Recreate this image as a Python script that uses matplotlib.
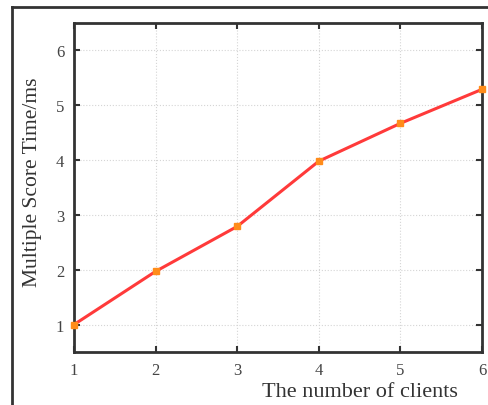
import numpy as np
import matplotlib
matplotlib.use('Agg')
import matplotlib.pyplot as plt
from matplotlib.lines import Line2D

####################
# Data
####################
clients = [1, 2, 3, 4, 5, 6]
score_time = [1.0, 1.97, 2.79, 3.98, 4.67, 5.29]
xticks = [1, 2, 3, 4, 5, 6]
yticks = [1, 2, 3, 4, 5, 6]

plt.rcParams['font.family'] = ['Liberation Serif', 'DejaVu Serif']

####################
# Plot
####################
fig = plt.figure(figsize=(4.88, 4.06), dpi=100)
ax = fig.add_axes([0.1516, 0.1305, 0.8361, 0.8104])

ax.plot(clients, score_time, color='#ff3a3a', lw=2.2, zorder=3)
ax.plot(clients, score_time, ls='none', marker='s', ms=5,
        color='#ff8c1a', mec='#ff8c1a', zorder=4, clip_on=False)

ax.set_xlim(1, 6)
ax.set_ylim(0.5, 6.5)
ax.set_xticks(xticks)
ax.set_yticks(yticks)
ax.grid(True, ls=':', color='#d5d5d5', lw=0.8)

for s in ax.spines.values():
    s.set_linewidth(2.0)
    s.set_color('#333333')
ax.tick_params(direction='in', top=True, right=True, length=4, width=1.5,
               color='#333333', labelsize=12, labelcolor='#444444', pad=7)

ax.set_xlabel('The number of clients', fontsize=16, color='#333333')
ax.xaxis.set_label_coords(0.70, -0.09)
ax.set_ylabel('Multiple Score Time/ms', fontsize=15.5, color='#333333')
ax.yaxis.set_label_coords(-0.078, 0.52)

# outer frame of the original figure
fig.add_artist(Line2D([12/488, 12/488], [0, 1 - 8/406], transform=fig.transFigure,
                      color='#333333', lw=2))
fig.add_artist(Line2D([12/488, 1], [1 - 8/406, 1 - 8/406], transform=fig.transFigure,
                      color='#333333', lw=2))

fig.savefig('out.png', dpi=100)
